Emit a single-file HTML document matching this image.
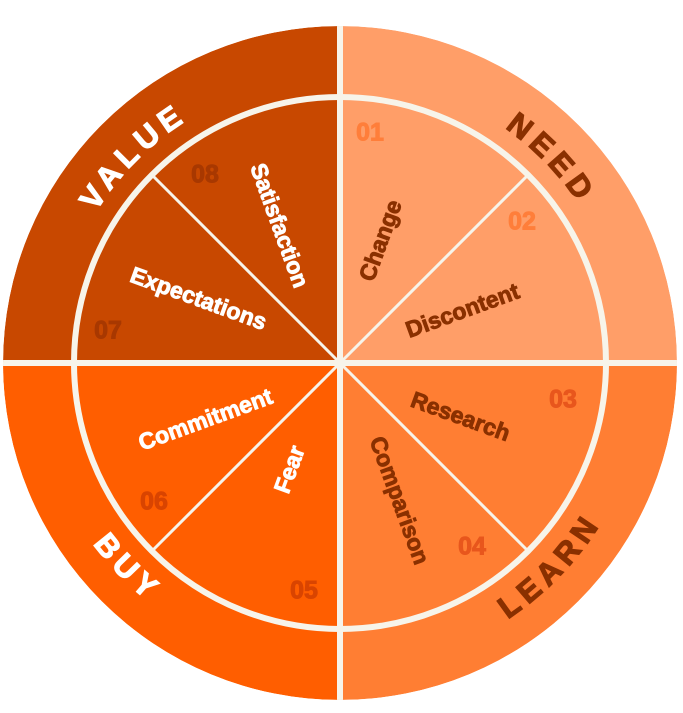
<!DOCTYPE html>
<html><head><meta charset="utf-8"><style>
html,body{margin:0;padding:0;background:#fff;width:683px;height:713px;overflow:hidden}
svg{display:block}
text{font-family:"Liberation Sans",sans-serif;font-weight:bold}
</style></head><body>
<svg width="683" height="713" viewBox="0 0 683 713">
<defs>
<path id="pV" d="M62.8,437.3 A287,287 0 0 1 414.3,85.8"/>
<path id="pN" d="M270.6,84.5 A287,287 0 0 1 615.9,442.1"/>
<path id="pL" d="M265.5,661.9 A310,310 0 0 0 636.1,278.1"/>
<path id="pB" d="M43.9,278.1 A310,310 0 0 0 414.5,661.9"/>
<clipPath id="cc"><circle cx="340" cy="363" r="337"/></clipPath>
</defs>
<g clip-path="url(#cc)">
<path d="M340,363 L340,26 A337,337 0 0 0 3,363 Z" fill="#C84800"/>
<path d="M340,363 L340,26 A337,337 0 0 1 677,363 Z" fill="#FF9E68"/>
<path d="M340,363 L677,363 A337,337 0 0 1 340,700 Z" fill="#FF7E33"/>
<path d="M340,363 L340,700 A337,337 0 0 1 3,363 Z" fill="#FF5E00"/>
<rect x="337" y="0" width="6" height="713" fill="#F7F4EA"/>
<rect x="0" y="360" width="683" height="6" fill="#F7F4EA"/>
</g>
<circle cx="340" cy="363" r="266" fill="none" stroke="#F7F4EA" stroke-width="6"/>
<g stroke="#F7F4EA" stroke-width="3">
<line x1="340" y1="363" x2="152" y2="175"/>
<line x1="340" y1="363" x2="528" y2="175"/>
<line x1="340" y1="363" x2="528" y2="551"/>
<line x1="340" y1="363" x2="152" y2="551"/>
</g>
<g font-size="31" letter-spacing="6" stroke-width="1.2">
<text fill="#fff" stroke="#fff"><textPath href="#pV" startOffset="50%" text-anchor="middle">VALUE</textPath></text>
<text fill="#8A3000" stroke="#8A3000"><textPath href="#pN" startOffset="50%" text-anchor="middle">NEED</textPath></text>
<text fill="#8A3000" stroke="#8A3000"><textPath href="#pL" startOffset="50%" text-anchor="middle">LEARN</textPath></text>
<text fill="#fff" stroke="#fff"><textPath href="#pB" startOffset="50%" text-anchor="middle">BUY</textPath></text>
</g>
<g font-size="23" text-anchor="middle" dominant-baseline="middle" stroke-width="0.9">
<text fill="#8A3000" stroke="#8A3000" transform="translate(382,241) rotate(-70)">Change</text>
<text fill="#8A3000" stroke="#8A3000" transform="translate(463,312) rotate(-20)">Discontent</text>
<text fill="#8A3000" stroke="#8A3000" transform="translate(460,418) rotate(20)">Research</text>
<text fill="#8A3000" stroke="#8A3000" transform="translate(398,501) rotate(70)">Comparison</text>
<text fill="#fff" stroke="#fff" transform="translate(291,470) rotate(-70)">Fear</text>
<text fill="#fff" stroke="#fff" transform="translate(206,421) rotate(-20)">Commitment</text>
<text fill="#fff" stroke="#fff" transform="translate(198,300) rotate(20)">Expectations</text>
<text fill="#fff" stroke="#fff" transform="translate(278,226) rotate(70)">Satisfaction</text>
</g>
<g font-size="25" text-anchor="middle" dominant-baseline="middle" stroke-width="1">
<text x="370" y="134" fill="#FF7E3A" stroke="#FF7E3A">01</text>
<text x="522" y="223" fill="#FF7E3A" stroke="#FF7E3A">02</text>
<text x="563" y="401" fill="#E8561C" stroke="#E8561C">03</text>
<text x="472" y="548" fill="#E8561C" stroke="#E8561C">04</text>
<text x="304" y="592" fill="#D94400" stroke="#D94400">05</text>
<text x="154" y="503" fill="#D94400" stroke="#D94400">06</text>
<text x="108" y="332" fill="#A83800" stroke="#A83800">07</text>
<text x="205" y="176" fill="#A83800" stroke="#A83800">08</text>
</g>
</svg>
</body></html>
